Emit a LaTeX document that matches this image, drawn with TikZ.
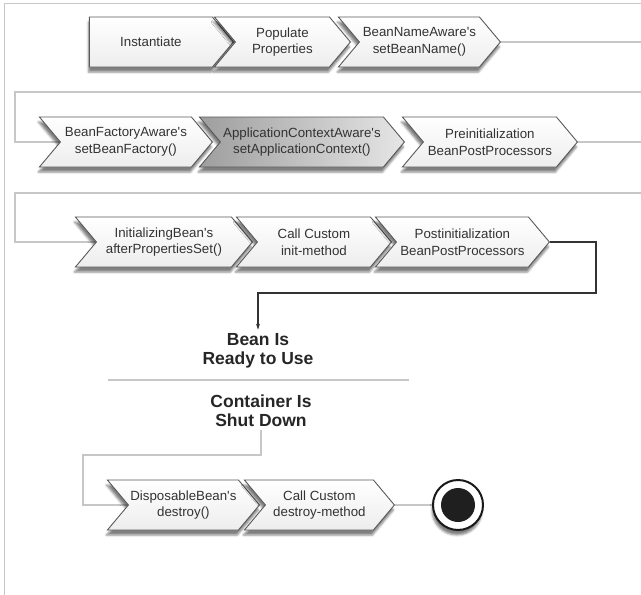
\documentclass[tikz,border=0pt]{standalone}
\usepackage{fontspec}
\setmainfont{Liberation Sans}[Ligatures=TeXOff]
\usepackage{tikz}
\usetikzlibrary{shapes.symbols,shadows.blur,arrows.meta,backgrounds}

\begin{document}
\begin{tikzpicture}[x=1pt,y=-1pt,
  stage/.style={signal, signal to=east, signal from=west, signal pointer angle=100,
    draw=black!65, line width=0.9pt, top color=white, bottom color=black!7,
    minimum height=50pt, inner xsep=0pt, inner ysep=2pt, align=center, anchor=east,
    font=\fontsize{13.3}{16.5}\selectfont, text=black!80,
    blur shadow={shadow xshift=-1pt, shadow yshift=-5pt, shadow opacity=50}},
  firststage/.style={stage, signal from=nowhere},
  flow/.style={draw=black!22, line width=1.2pt},
  mainflow/.style={draw=black!80, line width=1.4pt, -{Stealth[length=6pt,width=4pt]}},
  milestone/.style={font=\fontsize{17.5}{19}\selectfont\bfseries, text=black!85, align=center}]

\useasboundingbox (0,0) rectangle (641,595);
% frame
\draw[black!22, line width=1pt] (641,3) -- (4,3) -- (4,595);

% creation
\node[firststage, minimum width=144pt] (inst) at (234,42) {Instantiate};
\node[stage, minimum width=136pt] (populate) at (351,42) {Populate\\Properties};
\node[stage, minimum width=162pt] (setname) at (501,42) {BeanNameAware's\\setBeanName()};

\node[stage, minimum width=173pt] (setfactory) at (213,142) {BeanFactoryAware's\\setBeanFactory()};
\node[stage, minimum width=205pt, left color=black!38, right color=black!10] (setcontext) at (405,142) {ApplicationContextAware's\\setApplicationContext()};
\node[stage, minimum width=175pt] (preinit) at (578,142) {Preinitialization\\BeanPostProcessors};

\node[stage, minimum width=177pt] (afterprops) at (253,242) {InitializingBean's\\afterPropertiesSet()};
\node[stage, minimum width=155pt] (initmethod) at (392,242) {Call Custom\\init-method};
\node[stage, minimum width=174pt] (postinit) at (550,242) {Postinitialization\\BeanPostProcessors};

% in use / shutdown
\node[milestone] (ready) at (258,350.5) {Bean Is\\Ready to Use};
\node[milestone] (shutdown) at (261,411) {Container Is\\Shut Down};

\node[stage, minimum width=152pt] (destroy) at (260,505) {DisposableBean's\\destroy()};
\node[stage, minimum width=150pt] (destroymethod) at (395,505) {Call Custom\\destroy-method};
\node[circle, draw=black!90, line width=2pt, fill=white, minimum size=50pt, inner sep=0pt,
  blur shadow={shadow xshift=-1pt, shadow yshift=-5pt, shadow opacity=50}] (endstate) at (458,505) {};
\node[circle, fill=black!88, minimum size=34pt, inner sep=0pt] (endcore) at (endstate) {};

\coordinate (edgeA) at (645,42);
\coordinate (leftA) at (15,92);
\coordinate (edgeB) at (645,142);
\coordinate (leftB) at (15,193);
\coordinate (bendR) at (596,293);
\coordinate (leftC) at (83,455);

\begin{scope}[on background layer]
\draw[flow] (setname.east) -- (edgeA) |- (leftA) |- (setfactory.west);
\draw[flow] (preinit.east) -- (edgeB) |- (leftB) |- (afterprops.west);
\draw[mainflow] (postinit.east) -| (bendR) -| (ready.north);
\draw[flow] (108,380) -- (409,380);
\draw[flow] (shutdown.south) |- (leftC) |- (destroy.west);
\draw[flow] (destroymethod.east) -- (endstate);
\end{scope}
\end{tikzpicture}
\end{document}
